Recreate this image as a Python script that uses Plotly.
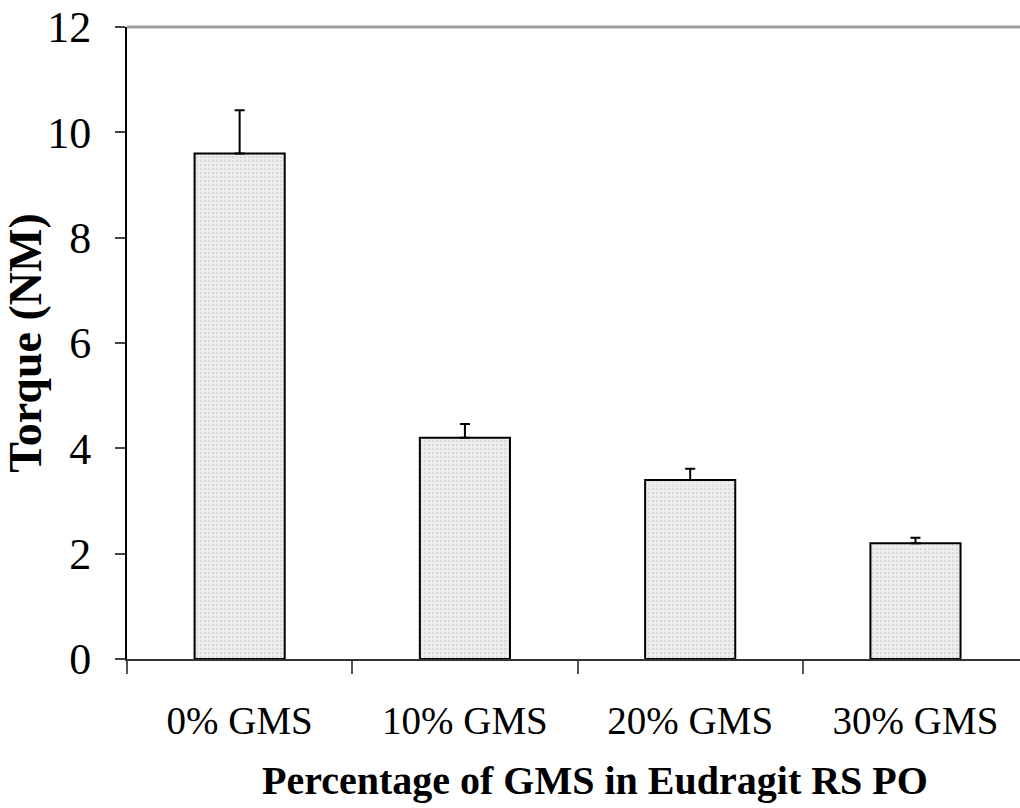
import plotly.graph_objects as go

# Torque measurements for each GMS loading
categories = ["0% GMS", "10% GMS", "20% GMS", "30% GMS"]
torque = [9.6, 4.2, 3.4, 2.2]
torque_sd = [0.82, 0.26, 0.21, 0.10]
y_ticks = [0, 2, 4, 6, 8, 10, 12]

serif = "Liberation Serif, Times New Roman, serif"

fig = go.Figure()
fig.add_trace(go.Bar(
    x=categories,
    y=torque,
    width=0.4,
    marker=dict(
        color="#e6e6e6",
        line=dict(color="black", width=2),
        pattern=dict(shape=".", fgcolor="#c8c8c8", bgcolor="#eeeeee", size=4, solidity=0.3),
    ),
    error_y=dict(
        type="data",
        array=torque_sd,
        arrayminus=[0] * len(torque_sd),
        symmetric=False,
        color="black",
        thickness=2,
        width=5,
    ),
    showlegend=False,
))

fig.update_layout(
    width=1020,
    height=808,
    margin=dict(l=127, r=0, t=27, b=149),
    plot_bgcolor="white",
    paper_bgcolor="white",
    font=dict(family=serif, color="black", size=36),
    bargap=0.6,
    xaxis=dict(
        range=[-0.5, 3.464],
        showline=True,
        linecolor="#333333",
        linewidth=2,
        ticks="outside",
        tickson="boundaries",
        ticklen=13,
        tickwidth=2,
        tickcolor="#555555",
        showgrid=False,
        tickfont=dict(family=serif, size=39),
        ticklabelstandoff=26,
    ),
    yaxis=dict(
        range=[0, 12],
        tickvals=y_ticks,
        showline=True,
        linecolor="black",
        linewidth=2,
        ticks="outside",
        ticklen=10,
        tickwidth=2,
        tickcolor="#444444",
        showgrid=False,
        zeroline=False,
        tickfont=dict(family=serif, size=44),
        ticklabelstandoff=15,
        title=dict(
            text="<b>Torque (NM)</b>",
            font=dict(family=serif, size=46),
            standoff=14,
        ),
    ),
    annotations=[dict(
        text="<b>Percentage of GMS in Eudragit RS PO</b>",
        xref="paper", yref="paper",
        x=0.524, y=-0.193,
        xanchor="center", yanchor="middle",
        showarrow=False,
        font=dict(family=serif, size=40, color="black"),
    )],
    shapes=[dict(
        type="line", xref="paper", yref="paper",
        x0=0, x1=1, y0=1, y1=1,
        line=dict(color="#a0a0a0", width=3),
    )],
)

fig.write_html("out.html")
